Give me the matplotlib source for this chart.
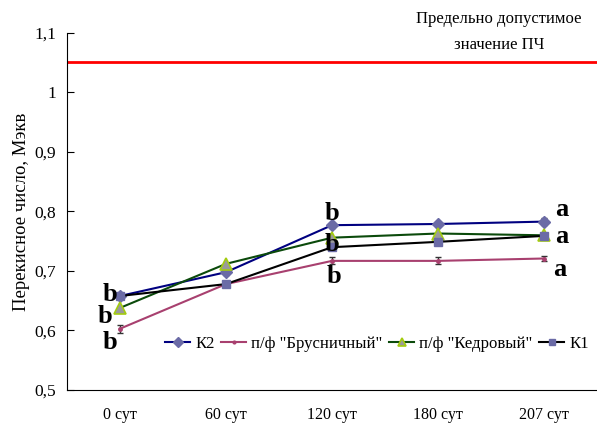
import numpy as np
import matplotlib
matplotlib.use('Agg')
import matplotlib.pyplot as plt

plt.rcParams['font.family'] = ['Liberation Serif', 'DejaVu Serif']

# data
days = ['0 сут', '60 сут', '120 сут', '180 сут', '207 сут']
k2 = [0.658, 0.698, 0.777, 0.779, 0.783]
brusn = [0.603, 0.678, 0.717, 0.717, 0.721]
kedr = [0.638, 0.712, 0.756, 0.763, 0.760]
k1 = [0.658, 0.678, 0.740, 0.749, 0.759]
k2_err = [0.004, 0.004, 0.004, 0.004, 0.006]
brusn_err = [0.007, 0.003, 0.006, 0.006, 0.005]
limit = 1.052

y_ticks = [0.5, 0.6, 0.7, 0.8, 0.9, 1.0, 1.1]
y_tick_labels = ['0,5', '0,6', '0,7', '0,8', '0,9', '1', '1,1']

# significance letters: (x index, y value, letter)
letters = [(-0.09, 0.660, 'b'), (-0.14, 0.623, 'b'), (-0.09, 0.579, 'b'),
           (2.0, 0.797, 'b'), (2.0, 0.744, 'b'), (2.02, 0.690, 'b'),
           (4.17, 0.803, 'a'), (4.17, 0.758, 'a'), (4.15, 0.702, 'a')]

x = np.arange(len(days))

fig = plt.figure(figsize=(5.97, 4.28), dpi=100)
ax = fig.add_axes([0.1122, 0.0888, 0.8878, 0.8341])

ax.axhline(limit, xmin=0, xmax=1, color='#ff0000', lw=2)

# error bars first, without labels
ax.errorbar(x, k2, yerr=k2_err, fmt='none', ecolor='#333333', capsize=2.5, elinewidth=1)
ax.errorbar(x, brusn, yerr=brusn_err, fmt='none', ecolor='#333333', capsize=2.5, elinewidth=1)

ax.plot(x, k2, color='#000080', lw=1.5, marker='D', ms=6,
        mfc='#6b6ba6', mec='#6b6ba6', label='К2')
ax.plot(x, brusn, color='#a8406f', lw=1.5, marker='o', ms=2.5,
        mfc='#a8406f', mec='#a8406f', label='п/ф "Брусничный"')
ax.plot(x, kedr, color='#0b4a0b', lw=1.5, marker='^', ms=8,
        mfc='#9a9a9a', mec='#a4cc10', mew=1.2, label='п/ф "Кедровый"')
ax.plot(x, k1, color='#000000', lw=1.5, marker='s', ms=6,
        mfc='#6b6ba6', mec='#6b6ba6', label='К1')

for lx, ly, lt in letters:
    ax.text(lx, ly, lt, fontsize=19, fontweight='bold', ha='center', va='center')

fig.text(0.836, 0.925, 'Предельно допустимое\nзначение ПЧ',
         ha='center', va='center', fontsize=12, linespacing=1.9)

ax.set_xlim(-0.5, 4.5)
ax.set_ylim(0.5, 1.1)
ax.set_xticks(x)
ax.set_xticklabels(days, fontsize=11.5)
ax.set_yticks(y_ticks)
ax.set_yticklabels(y_tick_labels, fontsize=12.5)
ax.tick_params(axis='x', length=0, pad=12)
ax.tick_params(axis='y', length=5, direction='in', pad=8)
ax.set_ylabel('Перекисное число, Мэкв', fontsize=13.5, labelpad=3)

for s in ['top', 'right']:
    ax.spines[s].set_visible(False)

ax.legend(loc='center right', bbox_to_anchor=(1.0, 0.13), ncol=4, frameon=False,
          fontsize=12, handlelength=1.5, handletextpad=0.3, columnspacing=0.4,
          markerscale=0.8, borderaxespad=0.1)

fig.savefig('out.png', dpi=100)
